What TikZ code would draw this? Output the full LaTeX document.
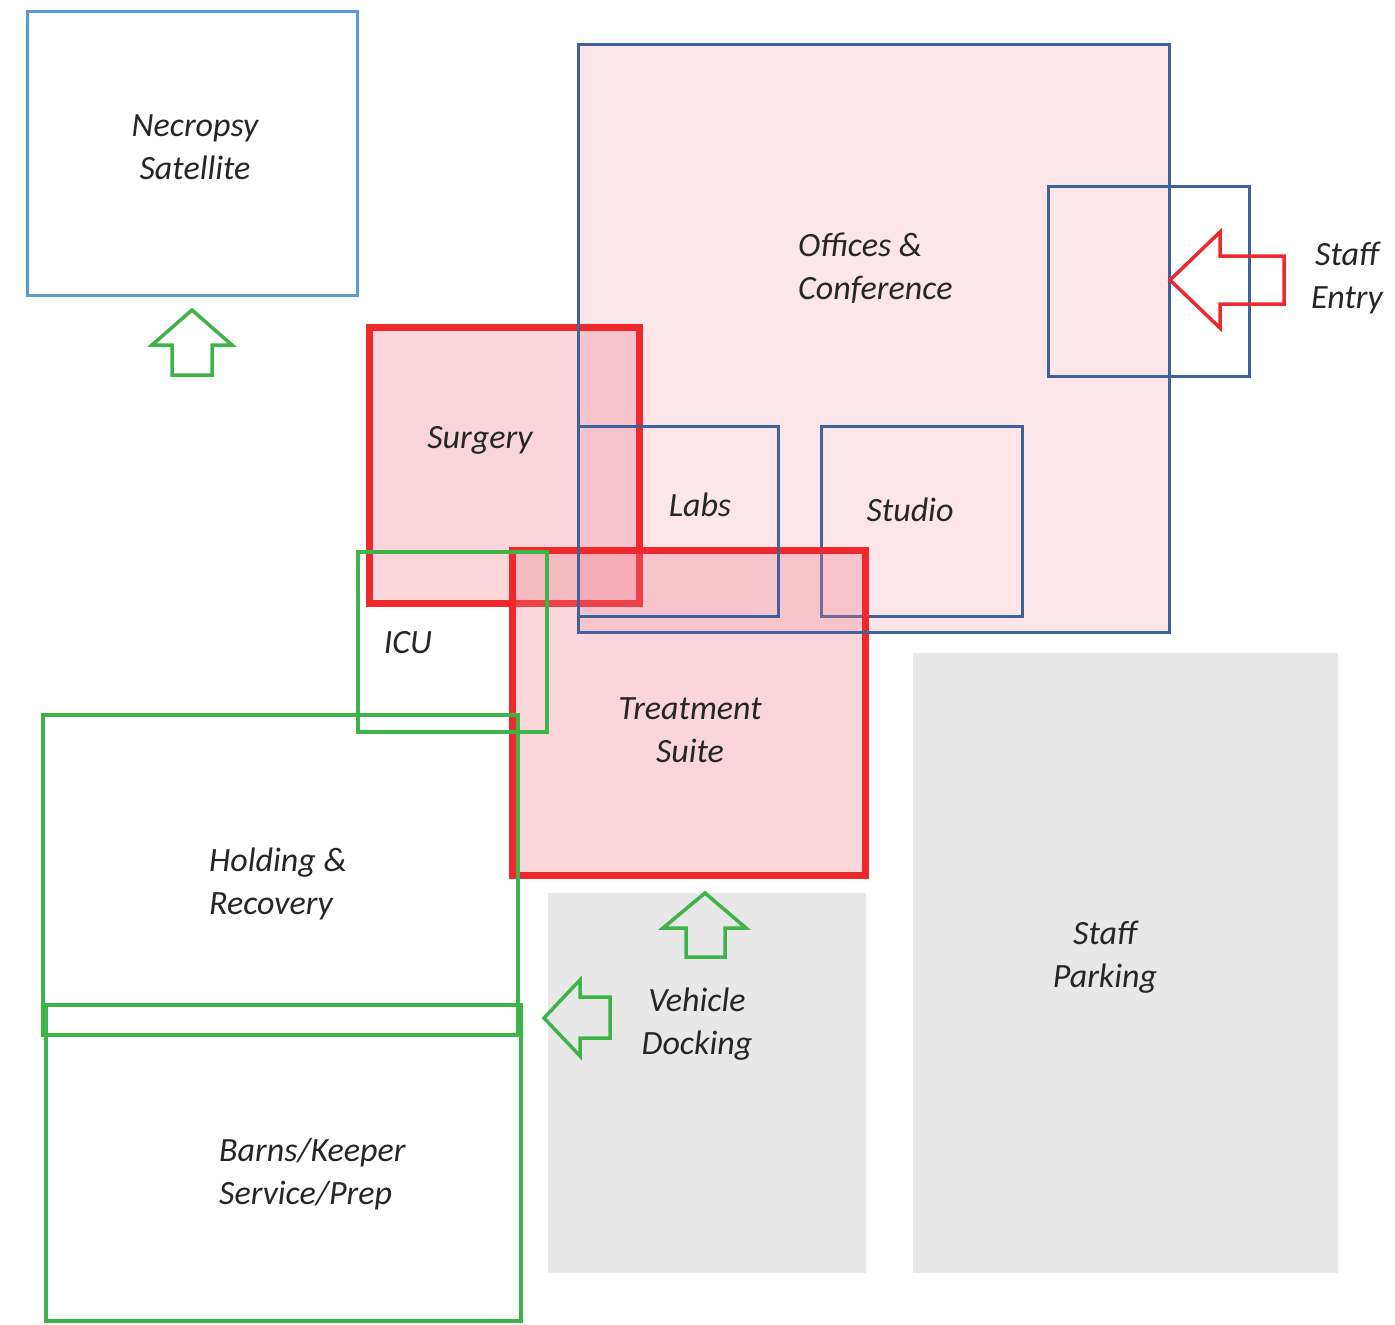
\documentclass[tikz,border=0pt]{standalone}
\usepackage{fontspec}
\setmainfont{Carlito}
\begin{document}
\begin{tikzpicture}[x=1pt,y=-1pt,
  lbl/.style={font=\fontsize{34}{43}\selectfont\itshape, text=black!85, inner sep=0pt},
  room/.style={rectangle, inner sep=0pt, outer sep=0pt},
  bluebox/.style={room, draw=darkblue, line width=3pt},
  redbox/.style={room, draw=redc, line width=7pt, fill=pinkc, fill opacity=0.3},
  greenbox/.style={room, draw=greenc, line width=3.5pt},
  greybox/.style={room, fill=greyc},
  garrow/.style={draw=greenc, line width=3.5pt, line join=miter},
  rarrow/.style={draw=redc, line width=3.5pt, line join=miter}]
\definecolor{darkblue}{RGB}{62,98,156}
\definecolor{lightblue}{RGB}{91,155,213}
\definecolor{redc}{RGB}{238,40,45}
\definecolor{pinkc}{RGB}{240,120,135}
\definecolor{officepink}{RGB}{252,230,234}
\definecolor{greenc}{RGB}{60,180,72}
\definecolor{greyc}{RGB}{232,232,232}
\useasboundingbox (0,0) rectangle (1395,1325);
\fill[white] (0,0) rectangle (1395,1325);
% grey areas
\node[greybox, minimum width=318pt, minimum height=380pt] (dock) at (707,1083) {};
\node[greybox, minimum width=425pt, minimum height=620pt] (park) at (1125.5,963) {};
% necropsy
\node[room, draw=lightblue, line width=3pt, minimum width=330pt, minimum height=284pt] (necro) at (192,153) {};
% offices
\node[bluebox, fill=officepink, minimum width=591pt, minimum height=588pt] (office) at (873.5,338) {};
\node[bluebox, minimum width=201pt, minimum height=190pt] (entrybox) at (1148.5,281) {};
\node[bluebox, minimum width=200pt, minimum height=190pt] (labs) at (678,521) {};
\node[bluebox, minimum width=201pt, minimum height=190pt] (studio) at (921.5,521) {};
% surgery & treatment
\node[redbox, minimum width=270pt, minimum height=276pt] (surgery) at (504,465) {};
\node[redbox, minimum width=353pt, minimum height=325pt] (treat) at (688.5,712.5) {};
% re-stroke offices blue lines on top
\draw[darkblue, line width=3pt] (office.north west) rectangle (office.south east);
\draw[darkblue, line width=3pt] (labs.north west) rectangle (labs.south east);
% green rooms
\node[greenbox, minimum width=189pt, minimum height=180pt] (icu) at (452.5,642) {};
\node[greenbox, minimum width=475pt, minimum height=320pt] (hold) at (280.5,875) {};
\node[greenbox, minimum width=475pt, minimum height=316pt] (barns) at (283.5,1163) {};
% arrows
\draw[garrow] (192,310) -- (232,345) -- (212,345) -- (212,375) -- (172,375) -- (172,345) -- (152,345) -- cycle;
\draw[garrow] (705,893) -- (746,928) -- (725,928) -- (725,957) -- (686,957) -- (686,928) -- (663,928) -- cycle;
\draw[garrow] (544,1018) -- (580,980) -- (580,997) -- (610,997) -- (610,1038) -- (580,1038) -- (580,1056) -- cycle;
\draw[rarrow] (1170,280) -- (1220,232) -- (1220,256) -- (1284,256) -- (1284,304) -- (1220,304) -- (1220,328) -- cycle;
% labels
\node[lbl, align=center] (tnecro) at (195,147) {Necropsy\\Satellite};
\node[lbl, align=left, anchor=west] (toffice) at (798,268) {Offices \&\\Conference};
\node[lbl] (tsurg) at (480,440) {Surgery};
\node[lbl] (tlabs) at (700,505) {Labs};
\node[lbl] (tstudio) at (910,510) {Studio};
\node[lbl] (ticu) at (408,643) {ICU};
\node[lbl, align=center] (ttreat) at (690,730) {Treatment\\Suite};
\node[lbl, align=left, anchor=west] (thold) at (209,884) {Holding \&\\Recovery};
\node[lbl, align=center] (tdock) at (697,1024) {Vehicle\\Docking};
\node[lbl, align=center] (tpark) at (1105,957) {Staff\\Parking};
\node[lbl, align=left, anchor=west] (tbarns) at (219,1174) {Barns/Keeper\\Service/Prep};
\node[lbl, align=center] (tentry) at (1347,278) {Staff\\Entry};
\end{tikzpicture}
\end{document}
